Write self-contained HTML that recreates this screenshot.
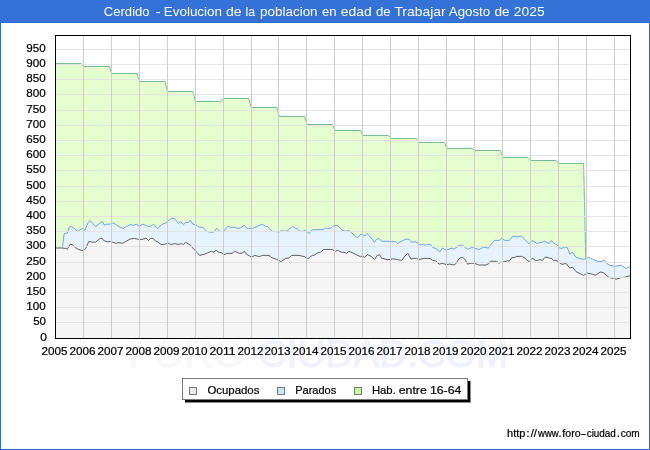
<!DOCTYPE html>
<html><head><meta charset="utf-8"><title>Cerdido - Evolucion de la poblacion en edad de Trabajar</title>
<style>
html,body{margin:0;padding:0;background:#fff;}
body{width:650px;height:450px;position:relative;overflow:hidden;font-family:"Liberation Sans",sans-serif;}
</style></head><body>
<svg width="650" height="450" viewBox="0 0 650 450" style="position:absolute;left:0;top:0">
<defs><filter id="g" x="-2%" y="-20%" width="104%" height="140%" color-interpolation-filters="sRGB"><feColorMatrix type="saturate" values="0"/></filter></defs>
<rect x="0" y="0" width="650" height="450" fill="#2d69d4"/>
<rect x="1" y="23" width="648" height="426" fill="#ffffff"/>
<rect x="0" y="0" width="650" height="22" fill="#3572d8"/>
<g font-family="Liberation Sans, sans-serif" font-size="38" stroke-width="0.9"><text x="128.3" y="366.8" fill="#f8f8f8" stroke="#f8f8f8" textLength="130" lengthAdjust="spacingAndGlyphs">FORO-</text><text x="258.6" y="366.8" fill="#f0f0fe" stroke="#f0f0fe" textLength="249.5" lengthAdjust="spacingAndGlyphs">CIUDAD.COM</text></g>
<polygon points="55.5,63.5 81.1,63.5 83.7,66.5 109.1,66.5 111.7,73.5 137.0,73.5 139.6,81.5 164.9,81.5 167.5,91.5 192.9,91.5 195.5,101.5 220.8,101.5 223.4,98.5 248.7,98.5 251.3,107.5 276.7,107.5 279.3,116.5 304.6,116.5 307.2,124.5 332.5,124.5 335.1,130.5 360.5,130.5 363.1,135.5 388.4,135.5 391.0,138.5 416.4,138.5 419.0,142.5 444.3,142.5 446.9,148.5 472.2,148.5 474.8,150.5 500.2,150.5 502.8,157.5 528.1,157.5 530.7,160.5 556.0,160.5 558.6,163.5 583.6,163.5 585.8,258.6 585.8,258.6 583.8,259.5 579.8,258.6 576.2,257.3 572.2,252.2 569.8,254.2 567.2,247.4 564.7,247.2 561.6,248.4 559.2,247.8 557.3,244.9 553.6,243.2 551.5,240.4 549.3,243.5 544.4,241.2 541.9,242.5 539.5,242.5 537.2,243.5 532.1,240.4 529.0,243.7 521.6,236.3 518.5,236.3 516.7,237.3 514.8,236.3 512.4,236.7 509.3,240.4 504.5,240.4 502.0,237.9 499.5,240.4 494.6,240.4 490.3,245.3 488.5,248.1 483.5,247.2 479.2,249.4 474.9,248.4 472.5,247.2 467.5,249.4 462.6,245.3 459.5,245.3 454.0,249.0 451.5,248.1 446.6,250.2 442.3,248.1 439.6,252.1 436.8,249.0 432.5,247.2 430.4,244.4 427.6,244.4 425.2,245.2 422.7,244.4 420.2,245.2 417.8,243.1 414.7,241.5 411.6,242.4 409.2,239.4 406.7,239.1 404.2,239.9 397.5,243.4 395.6,241.5 381.5,241.2 379.0,238.5 376.5,239.4 374.4,242.2 372.2,239.1 367.1,233.3 364.8,236.0 362.4,234.5 360.5,234.5 358.1,237.3 355.7,236.9 351.4,232.5 348.9,230.4 345.2,231.4 341.5,229.5 337.6,225.5 334.2,225.5 330.5,228.3 325.5,228.3 323.1,229.5 312.2,229.8 309.3,233.5 307.3,232.2 304.6,230.4 302.8,231.4 299.7,231.4 297.2,228.3 295.4,228.3 292.6,226.3 288.0,230.4 284.9,231.4 281.3,230.5 278.8,232.2 275.8,231.4 272.1,231.4 267.2,226.3 265.3,226.3 262.2,224.2 252.4,228.5 246.8,228.3 244.4,225.5 240.1,227.9 237.6,228.3 234.5,227.3 230.8,227.3 227.8,226.3 223.5,231.4 219.8,231.4 216.7,228.3 213.6,232.2 209.9,232.2 206.8,231.4 205.0,229.4 202.6,227.3 199.5,227.3 195.8,224.6 192.8,224.2 190.3,220.2 188.5,222.4 186.0,222.4 183.5,224.6 180.7,221.8 178.6,223.6 174.3,218.4 171.2,218.4 165.1,223.4 162.2,224.2 157.3,228.5 153.4,224.2 150.9,226.3 148.5,226.7 142.9,224.2 139.2,226.1 136.2,224.2 133.1,225.5 130.1,224.4 127.6,226.3 125.8,226.3 123.3,228.5 119.0,226.7 115.3,224.2 112.8,223.0 109.8,224.2 106.7,224.2 104.2,225.1 102.4,221.2 95.6,226.7 90.3,220.9 88.2,222.4 84.9,230.4 82.7,228.3 79.6,230.0 77.4,231.4 74.7,228.8 71.2,226.3 69.2,227.3 67.3,233.2 64.2,233.5 62.4,247.6 55.5,248.0" fill="#e6fdd0"/>
<polygon points="55.5,248.0 62.4,247.6 64.2,233.5 67.3,233.2 69.2,227.3 71.2,226.3 74.7,228.8 77.4,231.4 79.6,230.0 82.7,228.3 84.9,230.4 88.2,222.4 90.3,220.9 95.6,226.7 102.4,221.2 104.2,225.1 106.7,224.2 109.8,224.2 112.8,223.0 115.3,224.2 119.0,226.7 123.3,228.5 125.8,226.3 127.6,226.3 130.1,224.4 133.1,225.5 136.2,224.2 139.2,226.1 142.9,224.2 148.5,226.7 150.9,226.3 153.4,224.2 157.3,228.5 162.2,224.2 165.1,223.4 171.2,218.4 174.3,218.4 178.6,223.6 180.7,221.8 183.5,224.6 186.0,222.4 188.5,222.4 190.3,220.2 192.8,224.2 195.8,224.6 199.5,227.3 202.6,227.3 205.0,229.4 206.8,231.4 209.9,232.2 213.6,232.2 216.7,228.3 219.8,231.4 223.5,231.4 227.8,226.3 230.8,227.3 234.5,227.3 237.6,228.3 240.1,227.9 244.4,225.5 246.8,228.3 252.4,228.5 262.2,224.2 265.3,226.3 267.2,226.3 272.1,231.4 275.8,231.4 278.8,232.2 281.3,230.5 284.9,231.4 288.0,230.4 292.6,226.3 295.4,228.3 297.2,228.3 299.7,231.4 302.8,231.4 304.6,230.4 307.3,232.2 309.3,233.5 312.2,229.8 323.1,229.5 325.5,228.3 330.5,228.3 334.2,225.5 337.6,225.5 341.5,229.5 345.2,231.4 348.9,230.4 351.4,232.5 355.7,236.9 358.1,237.3 360.5,234.5 362.4,234.5 364.8,236.0 367.1,233.3 372.2,239.1 374.4,242.2 376.5,239.4 379.0,238.5 381.5,241.2 395.6,241.5 397.5,243.4 404.2,239.9 406.7,239.1 409.2,239.4 411.6,242.4 414.7,241.5 417.8,243.1 420.2,245.2 422.7,244.4 425.2,245.2 427.6,244.4 430.4,244.4 432.5,247.2 436.8,249.0 439.6,252.1 442.3,248.1 446.6,250.2 451.5,248.1 454.0,249.0 459.5,245.3 462.6,245.3 467.5,249.4 472.5,247.2 474.9,248.4 479.2,249.4 483.5,247.2 488.5,248.1 490.3,245.3 494.6,240.4 499.5,240.4 502.0,237.9 504.5,240.4 509.3,240.4 512.4,236.7 514.8,236.3 516.7,237.3 518.5,236.3 521.6,236.3 529.0,243.7 532.1,240.4 537.2,243.5 539.5,242.5 541.9,242.5 544.4,241.2 549.3,243.5 551.5,240.4 553.6,243.2 557.3,244.9 559.2,247.8 561.6,248.4 564.7,247.2 567.2,247.4 569.8,254.2 572.2,252.2 576.2,257.3 579.8,258.6 583.8,259.5 588.5,257.3 592.8,259.3 597.7,261.4 601.4,261.4 604.5,260.2 606.9,263.5 610.0,265.4 615.5,266.3 621.1,265.1 625.4,268.4 630.0,266.7 630.0,275.8 625.4,277.0 620.5,277.8 616.2,279.2 613.7,278.2 611.2,278.2 608.2,276.8 603.0,272.5 600.2,272.1 595.2,275.3 592.8,274.3 587.2,273.1 583.5,275.5 580.1,273.6 576.2,271.8 572.5,267.2 569.6,268.1 566.5,263.8 565.3,263.4 562.8,264.4 561.0,263.8 558.5,261.9 556.1,260.4 553.6,260.4 551.2,258.2 549.3,258.2 546.8,257.2 545.0,257.2 542.5,260.4 540.1,259.5 537.6,260.4 535.5,260.4 532.3,258.2 529.0,261.7 524.1,257.6 521.6,256.4 516.7,256.4 514.2,257.6 511.8,257.6 509.3,261.3 507.5,260.7 505.1,261.7 502.6,261.9 498.9,263.2 496.5,261.3 490.3,261.3 488.5,263.8 486.0,265.0 478.6,265.0 474.9,263.4 471.2,263.2 467.5,264.1 465.1,259.5 462.2,257.2 458.9,258.8 455.8,263.8 454.0,265.0 449.7,264.1 446.6,264.6 442.3,263.4 439.2,264.1 435.5,260.9 432.5,260.4 430.1,258.4 423.9,258.4 419.0,259.6 416.5,258.4 414.1,258.4 411.0,259.1 407.7,253.2 404.2,256.9 401.8,260.4 397.5,259.6 393.2,258.8 390.7,259.4 387.0,259.6 381.5,258.2 379.6,254.7 377.2,255.4 374.7,259.4 371.0,256.3 367.3,254.5 364.8,257.5 362.4,255.9 360.5,256.7 356.5,254.9 353.8,253.4 348.7,251.3 346.5,253.4 345.2,252.5 341.5,252.2 337.6,250.4 335.4,251.3 332.3,249.5 323.7,249.5 320.6,252.2 318.2,252.5 313.8,255.4 312.2,255.4 308.9,258.3 306.5,258.3 304.6,256.6 302.2,256.2 299.1,255.4 291.7,255.4 288.6,258.1 285.5,258.3 281.3,261.7 276.4,259.3 271.5,257.5 269.0,255.4 262.8,255.4 259.2,256.6 254.8,255.4 251.5,257.1 246.8,254.4 244.4,251.3 241.9,253.2 239.5,253.4 234.5,251.3 232.1,253.4 227.2,253.4 224.1,254.6 221.0,252.5 218.5,252.2 216.3,250.4 213.6,252.2 211.2,251.3 207.5,253.0 203.8,254.4 199.5,255.4 197.1,252.5 194.0,249.5 190.3,245.2 185.6,242.3 183.5,244.5 181.7,243.6 178.6,244.5 174.9,243.6 171.2,244.5 168.2,243.3 164.5,244.3 160.8,244.5 157.7,241.8 155.2,240.8 153.4,238.4 150.3,238.4 148.5,240.6 146.0,238.1 142.3,239.4 138.6,239.4 134.3,238.4 130.1,239.0 125.8,241.5 122.7,243.3 119.0,242.7 115.9,243.3 112.8,242.3 110.4,241.5 107.9,241.8 104.2,240.8 101.8,238.1 99.3,239.0 95.6,242.1 91.9,242.1 88.8,241.5 85.8,248.2 83.9,250.4 81.5,250.4 78.4,249.5 75.3,247.6 72.2,244.5 69.8,244.5 67.3,249.2 65.5,248.5 62.4,248.0 55.5,248.0" fill="#e6f3fe"/>
<polygon points="55.5,248.0 62.4,248.0 65.5,248.5 67.3,249.2 69.8,244.5 72.2,244.5 75.3,247.6 78.4,249.5 81.5,250.4 83.9,250.4 85.8,248.2 88.8,241.5 91.9,242.1 95.6,242.1 99.3,239.0 101.8,238.1 104.2,240.8 107.9,241.8 110.4,241.5 112.8,242.3 115.9,243.3 119.0,242.7 122.7,243.3 125.8,241.5 130.1,239.0 134.3,238.4 138.6,239.4 142.3,239.4 146.0,238.1 148.5,240.6 150.3,238.4 153.4,238.4 155.2,240.8 157.7,241.8 160.8,244.5 164.5,244.3 168.2,243.3 171.2,244.5 174.9,243.6 178.6,244.5 181.7,243.6 183.5,244.5 185.6,242.3 190.3,245.2 194.0,249.5 197.1,252.5 199.5,255.4 203.8,254.4 207.5,253.0 211.2,251.3 213.6,252.2 216.3,250.4 218.5,252.2 221.0,252.5 224.1,254.6 227.2,253.4 232.1,253.4 234.5,251.3 239.5,253.4 241.9,253.2 244.4,251.3 246.8,254.4 251.5,257.1 254.8,255.4 259.2,256.6 262.8,255.4 269.0,255.4 271.5,257.5 276.4,259.3 281.3,261.7 285.5,258.3 288.6,258.1 291.7,255.4 299.1,255.4 302.2,256.2 304.6,256.6 306.5,258.3 308.9,258.3 312.2,255.4 313.8,255.4 318.2,252.5 320.6,252.2 323.7,249.5 332.3,249.5 335.4,251.3 337.6,250.4 341.5,252.2 345.2,252.5 346.5,253.4 348.7,251.3 353.8,253.4 356.5,254.9 360.5,256.7 362.4,255.9 364.8,257.5 367.3,254.5 371.0,256.3 374.7,259.4 377.2,255.4 379.6,254.7 381.5,258.2 387.0,259.6 390.7,259.4 393.2,258.8 397.5,259.6 401.8,260.4 404.2,256.9 407.7,253.2 411.0,259.1 414.1,258.4 416.5,258.4 419.0,259.6 423.9,258.4 430.1,258.4 432.5,260.4 435.5,260.9 439.2,264.1 442.3,263.4 446.6,264.6 449.7,264.1 454.0,265.0 455.8,263.8 458.9,258.8 462.2,257.2 465.1,259.5 467.5,264.1 471.2,263.2 474.9,263.4 478.6,265.0 486.0,265.0 488.5,263.8 490.3,261.3 496.5,261.3 498.9,263.2 502.6,261.9 505.1,261.7 507.5,260.7 509.3,261.3 511.8,257.6 514.2,257.6 516.7,256.4 521.6,256.4 524.1,257.6 529.0,261.7 532.3,258.2 535.5,260.4 537.6,260.4 540.1,259.5 542.5,260.4 545.0,257.2 546.8,257.2 549.3,258.2 551.2,258.2 553.6,260.4 556.1,260.4 558.5,261.9 561.0,263.8 562.8,264.4 565.3,263.4 566.5,263.8 569.6,268.1 572.5,267.2 576.2,271.8 580.1,273.6 583.5,275.5 587.2,273.1 592.8,274.3 595.2,275.3 600.2,272.1 603.0,272.5 608.2,276.8 611.2,278.2 613.7,278.2 616.2,279.2 620.5,277.8 625.4,277.0 630.0,275.8 630.0,338.0 55.5,338.0" fill="#f5f5f5"/>
<polyline points="55.5,63.5 81.1,63.5 83.7,66.5 109.1,66.5 111.7,73.5 137.0,73.5 139.6,81.5 164.9,81.5 167.5,91.5 192.9,91.5 195.5,101.5 220.8,101.5 223.4,98.5 248.7,98.5 251.3,107.5 276.7,107.5 279.3,116.5 304.6,116.5 307.2,124.5 332.5,124.5 335.1,130.5 360.5,130.5 363.1,135.5 388.4,135.5 391.0,138.5 416.4,138.5 419.0,142.5 444.3,142.5 446.9,148.5 472.2,148.5 474.8,150.5 500.2,150.5 502.8,157.5 528.1,157.5 530.7,160.5 556.0,160.5 558.6,163.5 583.6,163.5 585.8,258.6" fill="none" stroke="#6cb48f" stroke-width="0.9" stroke-linejoin="round"/>
<polyline points="62.4,247.6 64.2,233.5 67.3,233.2 69.2,227.3 71.2,226.3 74.7,228.8 77.4,231.4 79.6,230.0 82.7,228.3 84.9,230.4 88.2,222.4 90.3,220.9 95.6,226.7 102.4,221.2 104.2,225.1 106.7,224.2 109.8,224.2 112.8,223.0 115.3,224.2 119.0,226.7 123.3,228.5 125.8,226.3 127.6,226.3 130.1,224.4 133.1,225.5 136.2,224.2 139.2,226.1 142.9,224.2 148.5,226.7 150.9,226.3 153.4,224.2 157.3,228.5 162.2,224.2 165.1,223.4 171.2,218.4 174.3,218.4 178.6,223.6 180.7,221.8 183.5,224.6 186.0,222.4 188.5,222.4 190.3,220.2 192.8,224.2 195.8,224.6 199.5,227.3 202.6,227.3 205.0,229.4 206.8,231.4 209.9,232.2 213.6,232.2 216.7,228.3 219.8,231.4 223.5,231.4 227.8,226.3 230.8,227.3 234.5,227.3 237.6,228.3 240.1,227.9 244.4,225.5 246.8,228.3 252.4,228.5 262.2,224.2 265.3,226.3 267.2,226.3 272.1,231.4 275.8,231.4 278.8,232.2 281.3,230.5 284.9,231.4 288.0,230.4 292.6,226.3 295.4,228.3 297.2,228.3 299.7,231.4 302.8,231.4 304.6,230.4 307.3,232.2 309.3,233.5 312.2,229.8 323.1,229.5 325.5,228.3 330.5,228.3 334.2,225.5 337.6,225.5 341.5,229.5 345.2,231.4 348.9,230.4 351.4,232.5 355.7,236.9 358.1,237.3 360.5,234.5 362.4,234.5 364.8,236.0 367.1,233.3 372.2,239.1 374.4,242.2 376.5,239.4 379.0,238.5 381.5,241.2 395.6,241.5 397.5,243.4 404.2,239.9 406.7,239.1 409.2,239.4 411.6,242.4 414.7,241.5 417.8,243.1 420.2,245.2 422.7,244.4 425.2,245.2 427.6,244.4 430.4,244.4 432.5,247.2 436.8,249.0 439.6,252.1 442.3,248.1 446.6,250.2 451.5,248.1 454.0,249.0 459.5,245.3 462.6,245.3 467.5,249.4 472.5,247.2 474.9,248.4 479.2,249.4 483.5,247.2 488.5,248.1 490.3,245.3 494.6,240.4 499.5,240.4 502.0,237.9 504.5,240.4 509.3,240.4 512.4,236.7 514.8,236.3 516.7,237.3 518.5,236.3 521.6,236.3 529.0,243.7 532.1,240.4 537.2,243.5 539.5,242.5 541.9,242.5 544.4,241.2 549.3,243.5 551.5,240.4 553.6,243.2 557.3,244.9 559.2,247.8 561.6,248.4 564.7,247.2 567.2,247.4 569.8,254.2 572.2,252.2 576.2,257.3 579.8,258.6 583.8,259.5 588.5,257.3 592.8,259.3 597.7,261.4 601.4,261.4 604.5,260.2 606.9,263.5 610.0,265.4 615.5,266.3 621.1,265.1 625.4,268.4 630.0,266.7" fill="none" stroke="#6596ea" stroke-width="0.9" stroke-linejoin="round"/>
<polyline points="55.5,248.0 62.4,248.0 65.5,248.5 67.3,249.2 69.8,244.5 72.2,244.5 75.3,247.6 78.4,249.5 81.5,250.4 83.9,250.4 85.8,248.2 88.8,241.5 91.9,242.1 95.6,242.1 99.3,239.0 101.8,238.1 104.2,240.8 107.9,241.8 110.4,241.5 112.8,242.3 115.9,243.3 119.0,242.7 122.7,243.3 125.8,241.5 130.1,239.0 134.3,238.4 138.6,239.4 142.3,239.4 146.0,238.1 148.5,240.6 150.3,238.4 153.4,238.4 155.2,240.8 157.7,241.8 160.8,244.5 164.5,244.3 168.2,243.3 171.2,244.5 174.9,243.6 178.6,244.5 181.7,243.6 183.5,244.5 185.6,242.3 190.3,245.2 194.0,249.5 197.1,252.5 199.5,255.4 203.8,254.4 207.5,253.0 211.2,251.3 213.6,252.2 216.3,250.4 218.5,252.2 221.0,252.5 224.1,254.6 227.2,253.4 232.1,253.4 234.5,251.3 239.5,253.4 241.9,253.2 244.4,251.3 246.8,254.4 251.5,257.1 254.8,255.4 259.2,256.6 262.8,255.4 269.0,255.4 271.5,257.5 276.4,259.3 281.3,261.7 285.5,258.3 288.6,258.1 291.7,255.4 299.1,255.4 302.2,256.2 304.6,256.6 306.5,258.3 308.9,258.3 312.2,255.4 313.8,255.4 318.2,252.5 320.6,252.2 323.7,249.5 332.3,249.5 335.4,251.3 337.6,250.4 341.5,252.2 345.2,252.5 346.5,253.4 348.7,251.3 353.8,253.4 356.5,254.9 360.5,256.7 362.4,255.9 364.8,257.5 367.3,254.5 371.0,256.3 374.7,259.4 377.2,255.4 379.6,254.7 381.5,258.2 387.0,259.6 390.7,259.4 393.2,258.8 397.5,259.6 401.8,260.4 404.2,256.9 407.7,253.2 411.0,259.1 414.1,258.4 416.5,258.4 419.0,259.6 423.9,258.4 430.1,258.4 432.5,260.4 435.5,260.9 439.2,264.1 442.3,263.4 446.6,264.6 449.7,264.1 454.0,265.0 455.8,263.8 458.9,258.8 462.2,257.2 465.1,259.5 467.5,264.1 471.2,263.2 474.9,263.4 478.6,265.0 486.0,265.0 488.5,263.8 490.3,261.3 496.5,261.3 498.9,263.2 502.6,261.9 505.1,261.7 507.5,260.7 509.3,261.3 511.8,257.6 514.2,257.6 516.7,256.4 521.6,256.4 524.1,257.6 529.0,261.7 532.3,258.2 535.5,260.4 537.6,260.4 540.1,259.5 542.5,260.4 545.0,257.2 546.8,257.2 549.3,258.2 551.2,258.2 553.6,260.4 556.1,260.4 558.5,261.9 561.0,263.8 562.8,264.4 565.3,263.4 566.5,263.8 569.6,268.1 572.5,267.2 576.2,271.8 580.1,273.6 583.5,275.5 587.2,273.1 592.8,274.3 595.2,275.3 600.2,272.1 603.0,272.5 608.2,276.8 611.2,278.2 613.7,278.2 616.2,279.2 620.5,277.8 625.4,277.0 630.0,275.8" fill="none" stroke="#4e4e4e" stroke-width="0.9" stroke-linejoin="round"/>
<g shape-rendering="crispEdges">
<rect x="56" y="322" width="573" height="1" fill="#e2e2e2" fill-opacity="0.9"/>
<rect x="56" y="307" width="573" height="1" fill="#e2e2e2" fill-opacity="0.9"/>
<rect x="56" y="292" width="573" height="1" fill="#e2e2e2" fill-opacity="0.9"/>
<rect x="56" y="277" width="573" height="1" fill="#e2e2e2" fill-opacity="0.9"/>
<rect x="56" y="262" width="573" height="1" fill="#e2e2e2" fill-opacity="0.9"/>
<rect x="56" y="246" width="573" height="1" fill="#e2e2e2" fill-opacity="0.9"/>
<rect x="56" y="231" width="573" height="1" fill="#e2e2e2" fill-opacity="0.9"/>
<rect x="56" y="216" width="573" height="1" fill="#e2e2e2" fill-opacity="0.9"/>
<rect x="56" y="201" width="573" height="1" fill="#e2e2e2" fill-opacity="0.9"/>
<rect x="56" y="186" width="573" height="1" fill="#e2e2e2" fill-opacity="0.9"/>
<rect x="56" y="170" width="573" height="1" fill="#e2e2e2" fill-opacity="0.9"/>
<rect x="56" y="155" width="573" height="1" fill="#e2e2e2" fill-opacity="0.9"/>
<rect x="56" y="140" width="573" height="1" fill="#e2e2e2" fill-opacity="0.9"/>
<rect x="56" y="125" width="573" height="1" fill="#e2e2e2" fill-opacity="0.9"/>
<rect x="56" y="110" width="573" height="1" fill="#e2e2e2" fill-opacity="0.9"/>
<rect x="56" y="94" width="573" height="1" fill="#e2e2e2" fill-opacity="0.9"/>
<rect x="56" y="79" width="573" height="1" fill="#e2e2e2" fill-opacity="0.9"/>
<rect x="56" y="64" width="573" height="1" fill="#e2e2e2" fill-opacity="0.9"/>
<rect x="56" y="49" width="573" height="1" fill="#e2e2e2" fill-opacity="0.9"/>
<rect x="83" y="36" width="1" height="302" fill="#cdcdcd"/>
<rect x="111" y="36" width="1" height="302" fill="#cdcdcd"/>
<rect x="139" y="36" width="1" height="302" fill="#cdcdcd"/>
<rect x="167" y="36" width="1" height="302" fill="#cdcdcd"/>
<rect x="195" y="36" width="1" height="302" fill="#cdcdcd"/>
<rect x="223" y="36" width="1" height="302" fill="#cdcdcd"/>
<rect x="251" y="36" width="1" height="302" fill="#cdcdcd"/>
<rect x="278" y="36" width="1" height="302" fill="#cdcdcd"/>
<rect x="306" y="36" width="1" height="302" fill="#cdcdcd"/>
<rect x="334" y="36" width="1" height="302" fill="#cdcdcd"/>
<rect x="362" y="36" width="1" height="302" fill="#cdcdcd"/>
<rect x="390" y="36" width="1" height="302" fill="#cdcdcd"/>
<rect x="418" y="36" width="1" height="302" fill="#cdcdcd"/>
<rect x="446" y="36" width="1" height="302" fill="#cdcdcd"/>
<rect x="474" y="36" width="1" height="302" fill="#cdcdcd"/>
<rect x="502" y="36" width="1" height="302" fill="#cdcdcd"/>
<rect x="530" y="36" width="1" height="302" fill="#cdcdcd"/>
<rect x="558" y="36" width="1" height="302" fill="#cdcdcd"/>
<rect x="586" y="36" width="1" height="302" fill="#cdcdcd"/>
<rect x="614" y="36" width="1" height="302" fill="#cdcdcd"/>
<rect x="55" y="35" width="576" height="1" fill="#000"/>
<rect x="55" y="338" width="576" height="1" fill="#000"/>
<rect x="55" y="35" width="1" height="304" fill="#000"/>
<rect x="630" y="35" width="1" height="304" fill="#000"/>
</g>
<g font-family="Liberation Sans, sans-serif" fill="#000" stroke="#000" stroke-width="0.22" filter="url(#g)">
<text x="103.80" y="16" font-size="12.6" fill="#fff" stroke="none" textLength="45.80" lengthAdjust="spacingAndGlyphs">Cerdido</text>
<text x="155.40" y="16" font-size="12.6" fill="#fff" stroke="none" textLength="5.20" lengthAdjust="spacingAndGlyphs">-</text>
<text x="163.80" y="16" font-size="12.6" fill="#fff" stroke="none" textLength="58.20" lengthAdjust="spacingAndGlyphs">Evolucion</text>
<text x="226.00" y="16" font-size="12.6" fill="#fff" stroke="none" textLength="15.60" lengthAdjust="spacingAndGlyphs">de</text>
<text x="245.40" y="16" font-size="12.6" fill="#fff" stroke="none" textLength="9.60" lengthAdjust="spacingAndGlyphs">la</text>
<text x="260.00" y="16" font-size="12.6" fill="#fff" stroke="none" textLength="57.60" lengthAdjust="spacingAndGlyphs">poblacion</text>
<text x="322.00" y="16" font-size="12.6" fill="#fff" stroke="none" textLength="14.60" lengthAdjust="spacingAndGlyphs">en</text>
<text x="340.80" y="16" font-size="12.6" fill="#fff" stroke="none" textLength="30.80" lengthAdjust="spacingAndGlyphs">edad</text>
<text x="376.00" y="16" font-size="12.6" fill="#fff" stroke="none" textLength="14.60" lengthAdjust="spacingAndGlyphs">de</text>
<text x="394.40" y="16" font-size="12.6" fill="#fff" stroke="none" textLength="51.20" lengthAdjust="spacingAndGlyphs">Trabajar</text>
<text x="448.80" y="16" font-size="12.6" fill="#fff" stroke="none" textLength="41.40" lengthAdjust="spacingAndGlyphs">Agosto</text>
<text x="494.40" y="16" font-size="12.6" fill="#fff" stroke="none" textLength="15.20" lengthAdjust="spacingAndGlyphs">de</text>
<text x="513.80" y="16" font-size="12.6" fill="#fff" stroke="none" textLength="30.80" lengthAdjust="spacingAndGlyphs">2025</text>
<text x="40.30" y="341.1" font-size="11" textLength="6.7" lengthAdjust="spacingAndGlyphs">0</text>
<text x="33.20" y="325.1" font-size="11" textLength="12.8" lengthAdjust="spacingAndGlyphs">50</text>
<text x="26.30" y="310.1" font-size="11" textLength="19.4" lengthAdjust="spacingAndGlyphs">100</text>
<text x="26.30" y="295.1" font-size="11" textLength="19.4" lengthAdjust="spacingAndGlyphs">150</text>
<text x="26.30" y="280.1" font-size="11" textLength="19.4" lengthAdjust="spacingAndGlyphs">200</text>
<text x="26.30" y="265.1" font-size="11" textLength="19.4" lengthAdjust="spacingAndGlyphs">250</text>
<text x="26.30" y="249.1" font-size="11" textLength="19.4" lengthAdjust="spacingAndGlyphs">300</text>
<text x="26.30" y="234.1" font-size="11" textLength="19.4" lengthAdjust="spacingAndGlyphs">350</text>
<text x="26.30" y="219.1" font-size="11" textLength="19.4" lengthAdjust="spacingAndGlyphs">400</text>
<text x="26.30" y="204.1" font-size="11" textLength="19.4" lengthAdjust="spacingAndGlyphs">450</text>
<text x="26.30" y="189.1" font-size="11" textLength="19.4" lengthAdjust="spacingAndGlyphs">500</text>
<text x="26.30" y="173.1" font-size="11" textLength="19.4" lengthAdjust="spacingAndGlyphs">550</text>
<text x="26.30" y="158.1" font-size="11" textLength="19.4" lengthAdjust="spacingAndGlyphs">600</text>
<text x="26.30" y="143.1" font-size="11" textLength="19.4" lengthAdjust="spacingAndGlyphs">650</text>
<text x="26.30" y="128.1" font-size="11" textLength="19.4" lengthAdjust="spacingAndGlyphs">700</text>
<text x="26.30" y="113.1" font-size="11" textLength="19.4" lengthAdjust="spacingAndGlyphs">750</text>
<text x="26.30" y="97.1" font-size="11" textLength="19.4" lengthAdjust="spacingAndGlyphs">800</text>
<text x="26.30" y="82.1" font-size="11" textLength="19.4" lengthAdjust="spacingAndGlyphs">850</text>
<text x="26.30" y="67.1" font-size="11" textLength="19.4" lengthAdjust="spacingAndGlyphs">900</text>
<text x="26.30" y="52.1" font-size="11" textLength="19.4" lengthAdjust="spacingAndGlyphs">950</text>
<text x="41.6" y="355" font-size="11" textLength="26" lengthAdjust="spacingAndGlyphs">2005</text>
<text x="69.6" y="355" font-size="11" textLength="26" lengthAdjust="spacingAndGlyphs">2006</text>
<text x="97.6" y="355" font-size="11" textLength="26" lengthAdjust="spacingAndGlyphs">2007</text>
<text x="125.6" y="355" font-size="11" textLength="26" lengthAdjust="spacingAndGlyphs">2008</text>
<text x="153.6" y="355" font-size="11" textLength="26" lengthAdjust="spacingAndGlyphs">2009</text>
<text x="181.6" y="355" font-size="11" textLength="26" lengthAdjust="spacingAndGlyphs">2010</text>
<text x="209.6" y="355" font-size="11" textLength="26" lengthAdjust="spacingAndGlyphs">2011</text>
<text x="237.6" y="355" font-size="11" textLength="26" lengthAdjust="spacingAndGlyphs">2012</text>
<text x="264.6" y="355" font-size="11" textLength="26" lengthAdjust="spacingAndGlyphs">2013</text>
<text x="292.6" y="355" font-size="11" textLength="26" lengthAdjust="spacingAndGlyphs">2014</text>
<text x="320.6" y="355" font-size="11" textLength="26" lengthAdjust="spacingAndGlyphs">2015</text>
<text x="348.6" y="355" font-size="11" textLength="26" lengthAdjust="spacingAndGlyphs">2016</text>
<text x="376.6" y="355" font-size="11" textLength="26" lengthAdjust="spacingAndGlyphs">2017</text>
<text x="404.6" y="355" font-size="11" textLength="26" lengthAdjust="spacingAndGlyphs">2018</text>
<text x="432.6" y="355" font-size="11" textLength="26" lengthAdjust="spacingAndGlyphs">2019</text>
<text x="460.6" y="355" font-size="11" textLength="26" lengthAdjust="spacingAndGlyphs">2020</text>
<text x="488.6" y="355" font-size="11" textLength="26" lengthAdjust="spacingAndGlyphs">2021</text>
<text x="516.6" y="355" font-size="11" textLength="26" lengthAdjust="spacingAndGlyphs">2022</text>
<text x="544.6" y="355" font-size="11" textLength="26" lengthAdjust="spacingAndGlyphs">2023</text>
<text x="572.6" y="355" font-size="11" textLength="26" lengthAdjust="spacingAndGlyphs">2024</text>
<text x="600.6" y="355" font-size="11" textLength="26" lengthAdjust="spacingAndGlyphs">2025</text>
<text x="507.10" y="437.2" font-size="10.4" textLength="18.30" lengthAdjust="spacingAndGlyphs">http</text>
<text x="526.30" y="437.2" font-size="10.4" textLength="3.40" lengthAdjust="spacingAndGlyphs">:</text>
<text x="530.70" y="437.2" font-size="10.4" textLength="6.20" lengthAdjust="spacingAndGlyphs">//</text>
<text x="538.00" y="437.2" font-size="10.4" textLength="20.70" lengthAdjust="spacingAndGlyphs">www</text>
<text x="558.60" y="437.2" font-size="10.4" textLength="3.00" lengthAdjust="spacingAndGlyphs">.</text>
<text x="562.30" y="437.2" font-size="10.4" textLength="18.30" lengthAdjust="spacingAndGlyphs">foro</text>
<text x="580.80" y="437.2" font-size="10.4" textLength="5.50" lengthAdjust="spacingAndGlyphs">-</text>
<text x="586.70" y="437.2" font-size="10.4" textLength="29.20" lengthAdjust="spacingAndGlyphs">ciudad</text>
<text x="616.80" y="437.2" font-size="10.4" textLength="3.20" lengthAdjust="spacingAndGlyphs">.</text>
<text x="620.70" y="437.2" font-size="10.4" textLength="19.00" lengthAdjust="spacingAndGlyphs">com</text>
</g>
<g shape-rendering="crispEdges">
<rect x="185" y="381" width="286" height="22" fill="#8c8c8c"/>
<rect x="185" y="381" width="285" height="21" fill="#000"/>
<rect x="182" y="378" width="286" height="22" fill="#fff" stroke="none"/>
<rect x="182.5" y="378.5" width="285" height="21" fill="#fff" stroke="#7a7a7a" stroke-width="1"/>
<rect x="189.5" y="387.5" width="7" height="7" fill="#ebebeb" stroke="#77777c" stroke-width="1"/>
<rect x="277.5" y="387.5" width="7" height="7" fill="#c9e5fb" stroke="#77777c" stroke-width="1"/>
<rect x="354.5" y="387.5" width="7" height="7" fill="#c8fa96" stroke="#77777c" stroke-width="1"/>
</g>
<g font-family="Liberation Sans, sans-serif" fill="#000" stroke="#000" stroke-width="0.2" font-size="11" filter="url(#g)">
<text x="207.4" y="394.3" textLength="52" lengthAdjust="spacingAndGlyphs">Ocupados</text>
<text x="295.2" y="394.3" textLength="41" lengthAdjust="spacingAndGlyphs">Parados</text>
<text x="371.90" y="394.3" textLength="23.90" lengthAdjust="spacingAndGlyphs">Hab.</text>
<text x="398.70" y="394.3" textLength="28.10" lengthAdjust="spacingAndGlyphs">entre</text>
<text x="429.90" y="394.3" textLength="31.50" lengthAdjust="spacingAndGlyphs">16-64</text>
</g>
</svg>
</body></html>
